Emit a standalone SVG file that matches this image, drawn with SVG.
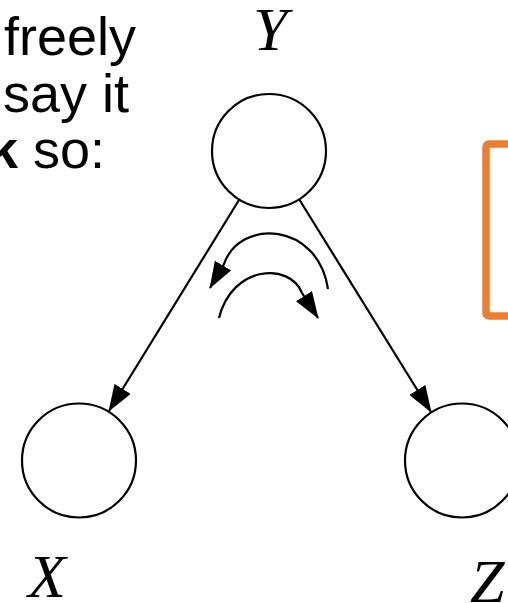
<svg xmlns="http://www.w3.org/2000/svg" width="508" height="603" viewBox="0 0 508 603">
<style>
.node{fill:#fff;stroke:#000;stroke-width:2.2}
.edge{fill:none;stroke:#000;stroke-width:2.2}
.lbl{font-family:"Liberation Serif",serif;font-style:italic;font-size:62px;fill:#000}
.txt{font-family:"Liberation Sans",Arial,sans-serif;font-size:54px;fill:#000}
</style>
<defs>
<marker id="ah" markerUnits="userSpaceOnUse" markerWidth="27" markerHeight="19" refX="26" refY="9.5" orient="auto" viewBox="0 0 27 19">
<path d="M0,0 L27,9.5 L0,19 z" fill="#000"/>
</marker>
</defs>
<g id="text">
<text class="txt" x="4" y="55">freely</text>
<text class="txt" x="3" y="112">say it</text>
<text class="txt" x="-12" y="168"><tspan font-weight="bold">k</tspan> so:</text>
</g>
<g id="box">
<rect x="486" y="144" width="60" height="172" rx="3" fill="none" stroke="#ED7D31" stroke-width="7.5"/>
</g>
<g id="connectors">
<line class="edge" x1="239" y1="200" x2="109" y2="411" marker-end="url(#ah)"/>
<line class="edge" x1="299" y1="199" x2="431" y2="412" marker-end="url(#ah)"/>
<path class="edge" d="M328,289 C318,222 240,218 224,264 L210,288" marker-end="url(#ah)"/>
<path class="edge" d="M219,318 C232,265 290,262 302,293 L318,318" marker-end="url(#ah)"/>
</g>
<g id="node-Y">
<circle class="node" cx="269" cy="151" r="57"/>
<text class="lbl" x="253" y="50">Y</text>
</g>
<g id="node-X">
<circle class="node" cx="79" cy="460.5" r="57"/>
<text class="lbl" x="28" y="597">X</text>
</g>
<g id="node-Z">
<circle class="node" cx="462" cy="460.5" r="57"/>
<text class="lbl" x="470" y="602">Z</text>
</g>
</svg>
